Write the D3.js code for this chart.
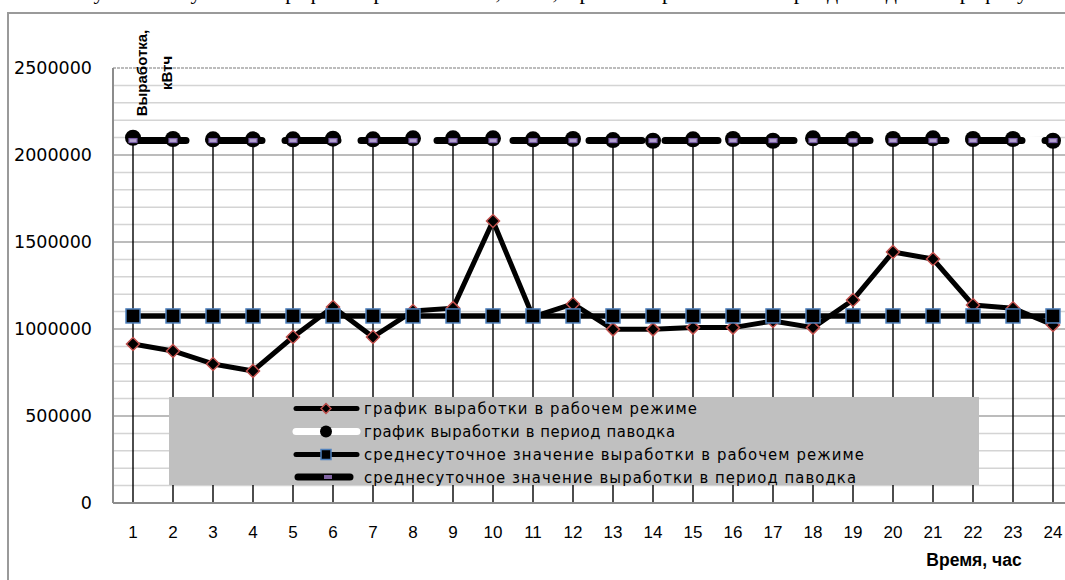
<!DOCTYPE html>
<html>
<head>
<meta charset="utf-8">
<title>Выработка по часам</title>
<script src="https://cdn.jsdelivr.net/npm/d3@7/dist/d3.min.js"></script>
<style>
  body { margin: 0; background: #fff; }
  svg { display: block; }
  .ylab text { font-family: "DejaVu Sans", sans-serif; font-size: 17.5px; fill: #000; }
  .xlab text { font-family: "Liberation Sans", sans-serif; font-size: 17px; fill: #000; }
</style>
</head>
<body>
<div id="chart"></div>
<script>
// hours of the day
var hours = [1, 2, 3, 4, 5, 6, 7, 8, 9, 10, 11, 12, 13, 14, 15, 16, 17, 18, 19, 20, 21, 22, 23, 24];

// график выработки в рабочем режиме, кВтч
var workMode = [914000, 874000, 799000, 759000, 954000, 1126000, 954000, 1103000, 1120000, 1621000, 1070000, 1144000,
                998000, 998000, 1008000, 1008000, 1046000, 1008000, 1167000, 1443000, 1402000, 1138000, 1119000, 1023000];

// график выработки в период паводка, кВтч
var floodMode = [2099000, 2092000, 2090000, 2090000, 2090000, 2094000, 2090000, 2096000, 2096000, 2096000, 2090000, 2092000,
                 2086000, 2082000, 2090000, 2092000, 2082000, 2096000, 2092000, 2092000, 2096000, 2092000, 2092000, 2082000];

// среднесуточные значения
var workAvg = [1075000, 1075000, 1075000, 1075000, 1075000, 1075000, 1075000, 1075000, 1075000, 1075000, 1075000, 1075000,
               1075000, 1075000, 1075000, 1075000, 1075000, 1075000, 1075000, 1075000, 1075000, 1075000, 1075000, 1075000];
var floodAvg = [2083000, 2083000, 2083000, 2083000, 2083000, 2083000, 2083000, 2083000, 2083000, 2083000, 2083000, 2083000,
                2083000, 2083000, 2083000, 2083000, 2083000, 2083000, 2083000, 2083000, 2083000, 2083000, 2083000, 2083000];

var yTicks = [0, 500000, 1000000, 1500000, 2000000, 2500000];
var legendLabels = [
  "график выработки в рабочем режиме",
  "график выработки в период паводка",
  "среднесуточное значение выработки в рабочем режиме",
  "среднесуточное значение выработки в период паводка"
];

var width = 1065, height = 580;

var svg = d3.select("#chart").append("svg")
  .attr("width", width)
  .attr("height", height);

var x = d3.scaleBand().domain(hours).range([113, 1073]);
var y = d3.scaleLinear().domain([0, 2500000]).range([503, 68]);
var cx = function(d, i) { return x(hours[i]) + x.bandwidth() / 2; };

// cut-off caption line of the document above the chart (only descenders show)
svg.append("text")
  .attr("x", 60).attr("y", -1.5)
  .style("font-family", "Liberation Serif, serif")
  .style("font-size", "22px")
  .text("Рисунок 3 – Суточный график выработки ГЭС, кВтч, в рабочем режиме и в период паводка по графику");

// chart border
svg.append("path")
  .attr("d", "M8,582 V13 H1067")
  .attr("fill", "none")
  .attr("stroke", "#9a9a9a")
  .attr("stroke-width", 2);

// gridlines: minor every 100000, major every 500000
var minor = y.ticks(25);
svg.append("g").selectAll("line").data(minor).enter().append("line")
  .attr("x1", 113).attr("x2", 1073)
  .attr("y1", function(d) { return y(d); })
  .attr("y2", function(d) { return y(d); })
  .attr("stroke", function(d) { return d % 500000 === 0 ? "#a6a6a6" : "#d4d4d4"; })
  .attr("stroke-width", 1.5)
  .attr("stroke-dasharray", function(d) { return d === 2500000 ? "3 1" : null; });

// plot left edge
svg.append("line")
  .attr("x1", 113).attr("x2", 113).attr("y1", 68).attr("y2", 503)
  .attr("stroke", "#8c8c8c").attr("stroke-width", 2);

// drop lines from the highest point down to the axis
svg.append("g").selectAll("line").data(hours).enter().append("line")
  .attr("x1", function(d, i) { return cx(d, i); })
  .attr("x2", function(d, i) { return cx(d, i); })
  .attr("y1", function(d, i) { return y(d3.max([workMode[i], floodMode[i], workAvg[i], floodAvg[i]])); })
  .attr("y2", y(0))
  .attr("stroke", "#000")
  .attr("stroke-width", 1.4);

// x axis line
svg.append("line")
  .attr("x1", 113).attr("x2", 1073).attr("y1", 503).attr("y2", 503)
  .attr("stroke", "#8c8c8c").attr("stroke-width", 2);

// axis labels
var yAxis = svg.append("g").attr("class", "ylab")
  .attr("transform", "translate(113,0)")
  .call(d3.axisLeft(y).tickValues(yTicks).tickSize(0).tickPadding(21).tickFormat(d3.format("d")));
yAxis.select(".domain").remove();

var xAxis = svg.append("g").attr("class", "xlab")
  .attr("transform", "translate(0,503)")
  .call(d3.axisBottom(x).tickSize(0).tickPadding(23));
xAxis.select(".domain").remove();

svg.append("text")
  .attr("x", 974).attr("y", 566)
  .attr("text-anchor", "middle")
  .style("font-family", "Liberation Sans, sans-serif")
  .style("font-weight", "bold")
  .style("font-size", "17.5px")
  .text("Время, час");

var ytitle = [["Выработка,", 147], ["кВтч", 172]];
svg.selectAll(".ytitle").data(ytitle).enter().append("text")
  .attr("class", "ytitle")
  .attr("transform", function(d) { return "translate(" + d[1] + ",73) rotate(-90)"; })
  .attr("text-anchor", "middle")
  .style("font-family", "Liberation Sans, sans-serif")
  .style("font-weight", "bold")
  .style("font-size", "15px")
  .text(function(d) { return d[0]; });

var line = d3.line()
  .x(function(d, i) { return cx(d, i); })
  .y(function(d) { return y(d); });

var diamond = "M0,-6.5L6.5,0L0,6.5L-6.5,0Z";

// series 1: working mode
svg.append("path").datum(workMode)
  .attr("d", line)
  .attr("fill", "none").attr("stroke", "#000").attr("stroke-width", 5)
  .attr("stroke-linejoin", "round");
svg.append("g").selectAll("path").data(workMode).enter().append("path")
  .attr("d", diamond)
  .attr("transform", function(d, i) { return "translate(" + cx(d, i) + "," + y(d) + ")"; })
  .attr("fill", "#000").attr("stroke", "#c0504d").attr("stroke-width", 1.5);

// series 2: flood period (white line, black circles)
svg.append("path").datum(floodMode)
  .attr("d", line)
  .attr("fill", "none").attr("stroke", "#fff").attr("stroke-width", 7)
  .attr("stroke-linejoin", "round");
svg.append("g").selectAll("circle").data(floodMode).enter().append("circle")
  .attr("cx", function(d, i) { return cx(d, i); })
  .attr("cy", function(d) { return y(d); })
  .attr("r", 8)
  .attr("fill", "#000");

// series 3: daily average, working mode
svg.append("path").datum(workAvg)
  .attr("d", line)
  .attr("fill", "none").attr("stroke", "#000").attr("stroke-width", 5.5);
svg.append("g").selectAll("rect").data(workAvg).enter().append("rect")
  .attr("x", function(d, i) { return cx(d, i) - 7; })
  .attr("y", function(d) { return y(d) - 7; })
  .attr("width", 14).attr("height", 14)
  .attr("fill", "#000").attr("stroke", "#4f81bd").attr("stroke-width", 1.5);

// series 4: daily average, flood period (long dash)
svg.append("path").datum(floodAvg)
  .attr("d", line)
  .attr("fill", "none").attr("stroke", "#000").attr("stroke-width", 7)
  .attr("stroke-linecap", "round")
  .attr("stroke-dasharray", "53 23");
svg.append("g").selectAll("rect").data(floodAvg).enter().append("rect")
  .attr("x", function(d, i) { return cx(d, i) - 4; })
  .attr("y", function(d) { return y(d) - 2; })
  .attr("width", 8).attr("height", 4)
  .attr("fill", "#b4a3cf").attr("stroke", "#7a5ea8").attr("stroke-width", 1.2);

// legend
var lg = svg.append("g");
lg.append("rect")
  .attr("x", 169).attr("y", 397).attr("width", 810).attr("height", 88)
  .attr("fill", "#c0c0c0");

var rowY = [408.5, 431.5, 454.5, 477];
var textLen = [333, 311, 500, 492];

// row 1
lg.append("line").attr("x1", 296).attr("x2", 357).attr("y1", rowY[0]).attr("y2", rowY[0])
  .attr("stroke", "#000").attr("stroke-width", 5).attr("stroke-linecap", "round");
lg.append("path").attr("d", "M0,-5L5,0L0,5L-5,0Z")
  .attr("transform", "translate(326," + rowY[0] + ")")
  .attr("fill", "#000").attr("stroke", "#c0504d").attr("stroke-width", 1.5);
// row 2
lg.append("line").attr("x1", 296).attr("x2", 357).attr("y1", rowY[1]).attr("y2", rowY[1])
  .attr("stroke", "#fff").attr("stroke-width", 7).attr("stroke-linecap", "round");
lg.append("circle").attr("cx", 326).attr("cy", rowY[1]).attr("r", 6).attr("fill", "#000");
// row 3
lg.append("line").attr("x1", 296).attr("x2", 357).attr("y1", rowY[2]).attr("y2", rowY[2])
  .attr("stroke", "#000").attr("stroke-width", 5).attr("stroke-linecap", "round");
lg.append("rect").attr("x", 321).attr("y", rowY[2] - 5).attr("width", 10).attr("height", 10)
  .attr("fill", "#000").attr("stroke", "#4f81bd").attr("stroke-width", 1.5);
// row 4
lg.append("line").attr("x1", 298).attr("x2", 350).attr("y1", rowY[3]).attr("y2", rowY[3])
  .attr("stroke", "#000").attr("stroke-width", 7).attr("stroke-linecap", "round");
lg.append("rect").attr("x", 324).attr("y", rowY[3] - 2).attr("width", 8).attr("height", 4)
  .attr("fill", "#8064a2");

lg.selectAll(".ltext").data(legendLabels).enter().append("text")
  .attr("class", "ltext")
  .attr("x", 364)
  .attr("y", function(d, i) { return rowY[i]; })
  .attr("dy", "0.35em")
  .attr("textLength", function(d, i) { return textLen[i]; })
  .attr("lengthAdjust", "spacing")
  .style("font-family", "Liberation Sans Narrow, DejaVu Sans Condensed, Liberation Sans, sans-serif")
  .style("font-size", "16.5px")
  .text(function(d) { return d; });
</script>
</body>
</html>
